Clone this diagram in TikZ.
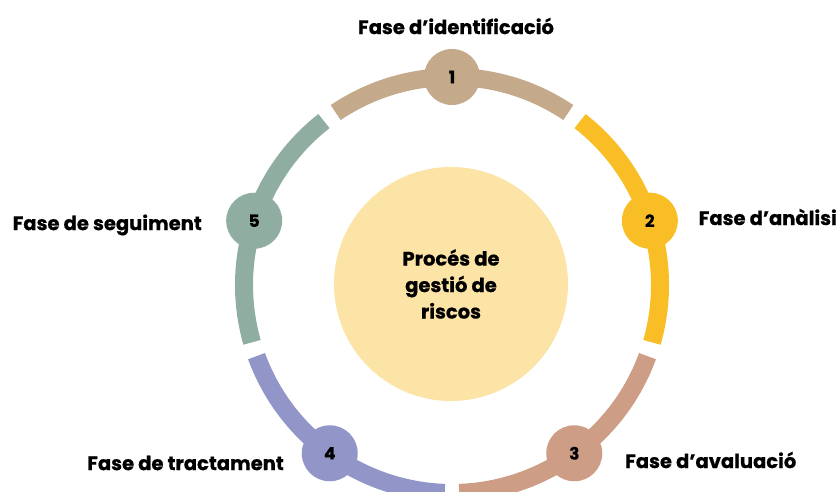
\documentclass[tikz,border=0pt]{standalone}
\usepackage{fontspec}
\setmainfont{Poppins}[BoldFeatures={FakeBold=0.7}]
\usetikzlibrary{calc}
\definecolor{cTan}{RGB}{196,169,139}
\definecolor{cYel}{RGB}{249,190,38}
\definecolor{cBrn}{RGB}{205,157,133}
\definecolor{cPur}{RGB}{146,149,200}
\definecolor{cGrn}{RGB}{143,173,161}
\definecolor{cIn}{RGB}{252,228,167}
\tikzset{
  seg/.style={line width=18pt, line cap=butt},
  numnode/.style={circle, minimum size=56pt, inner sep=0pt, font=\fontsize{17}{20}\selectfont\bfseries, text=black},
  lbl/.style={font=\fontsize{19.5}{23}\selectfont\bfseries, text=black, inner sep=0pt},
}
\begin{document}
\begin{tikzpicture}[x=1pt,y=1pt]
\useasboundingbox (0,0) rectangle (840,492);
\clip (0,0) rectangle (840,492);
\fill[white] (0,0) rectangle (840,492);
\coordinate (c) at (452,207);
% inner circle
\node[circle, fill=cIn, minimum size=234pt, inner sep=0pt, align=center,
  font=\fontsize{19.5}{26.5}\selectfont\bfseries] (core) at (451,208) {Procés de\\gestió de\\riscos};
% ring segments
\foreach \a/\col in {90/cTan, 18/cYel, -54/cBrn, -126/cPur, 162/cGrn}{
  \draw[seg, draw=\col] ($(c)+(\a-34:208)$) arc[start angle=\a-34, end angle=\a+34, radius=208];
}
% number nodes
\node[numnode, fill=cTan] (n1) at ($(c)+(90:208)$) {1};
\node[numnode, fill=cYel] (n2) at ($(c)+(18:208)$) {2};
\node[numnode, fill=cBrn] (n3) at ($(c)+(-54:208)$) {3};
\node[numnode, fill=cPur] (n4) at ($(c)+(-126:208)$) {4};
\node[numnode, fill=cGrn] (n5) at ($(c)+(162:208)$) {5};
% labels
\node[lbl] (l1) at (456,466) {Fase d’identificació};
\node[lbl, anchor=east] (l2) at (837,275) {Fase d’anàlisi};
\node[lbl, anchor=west] (l3) at (625,32) {Fase d’avaluació};
\node[lbl, anchor=east] (l4) at (284,29) {Fase de tractament};
\node[lbl, anchor=east] (l5) at (202,267) {Fase de seguiment};
\end{tikzpicture}
\end{document}
